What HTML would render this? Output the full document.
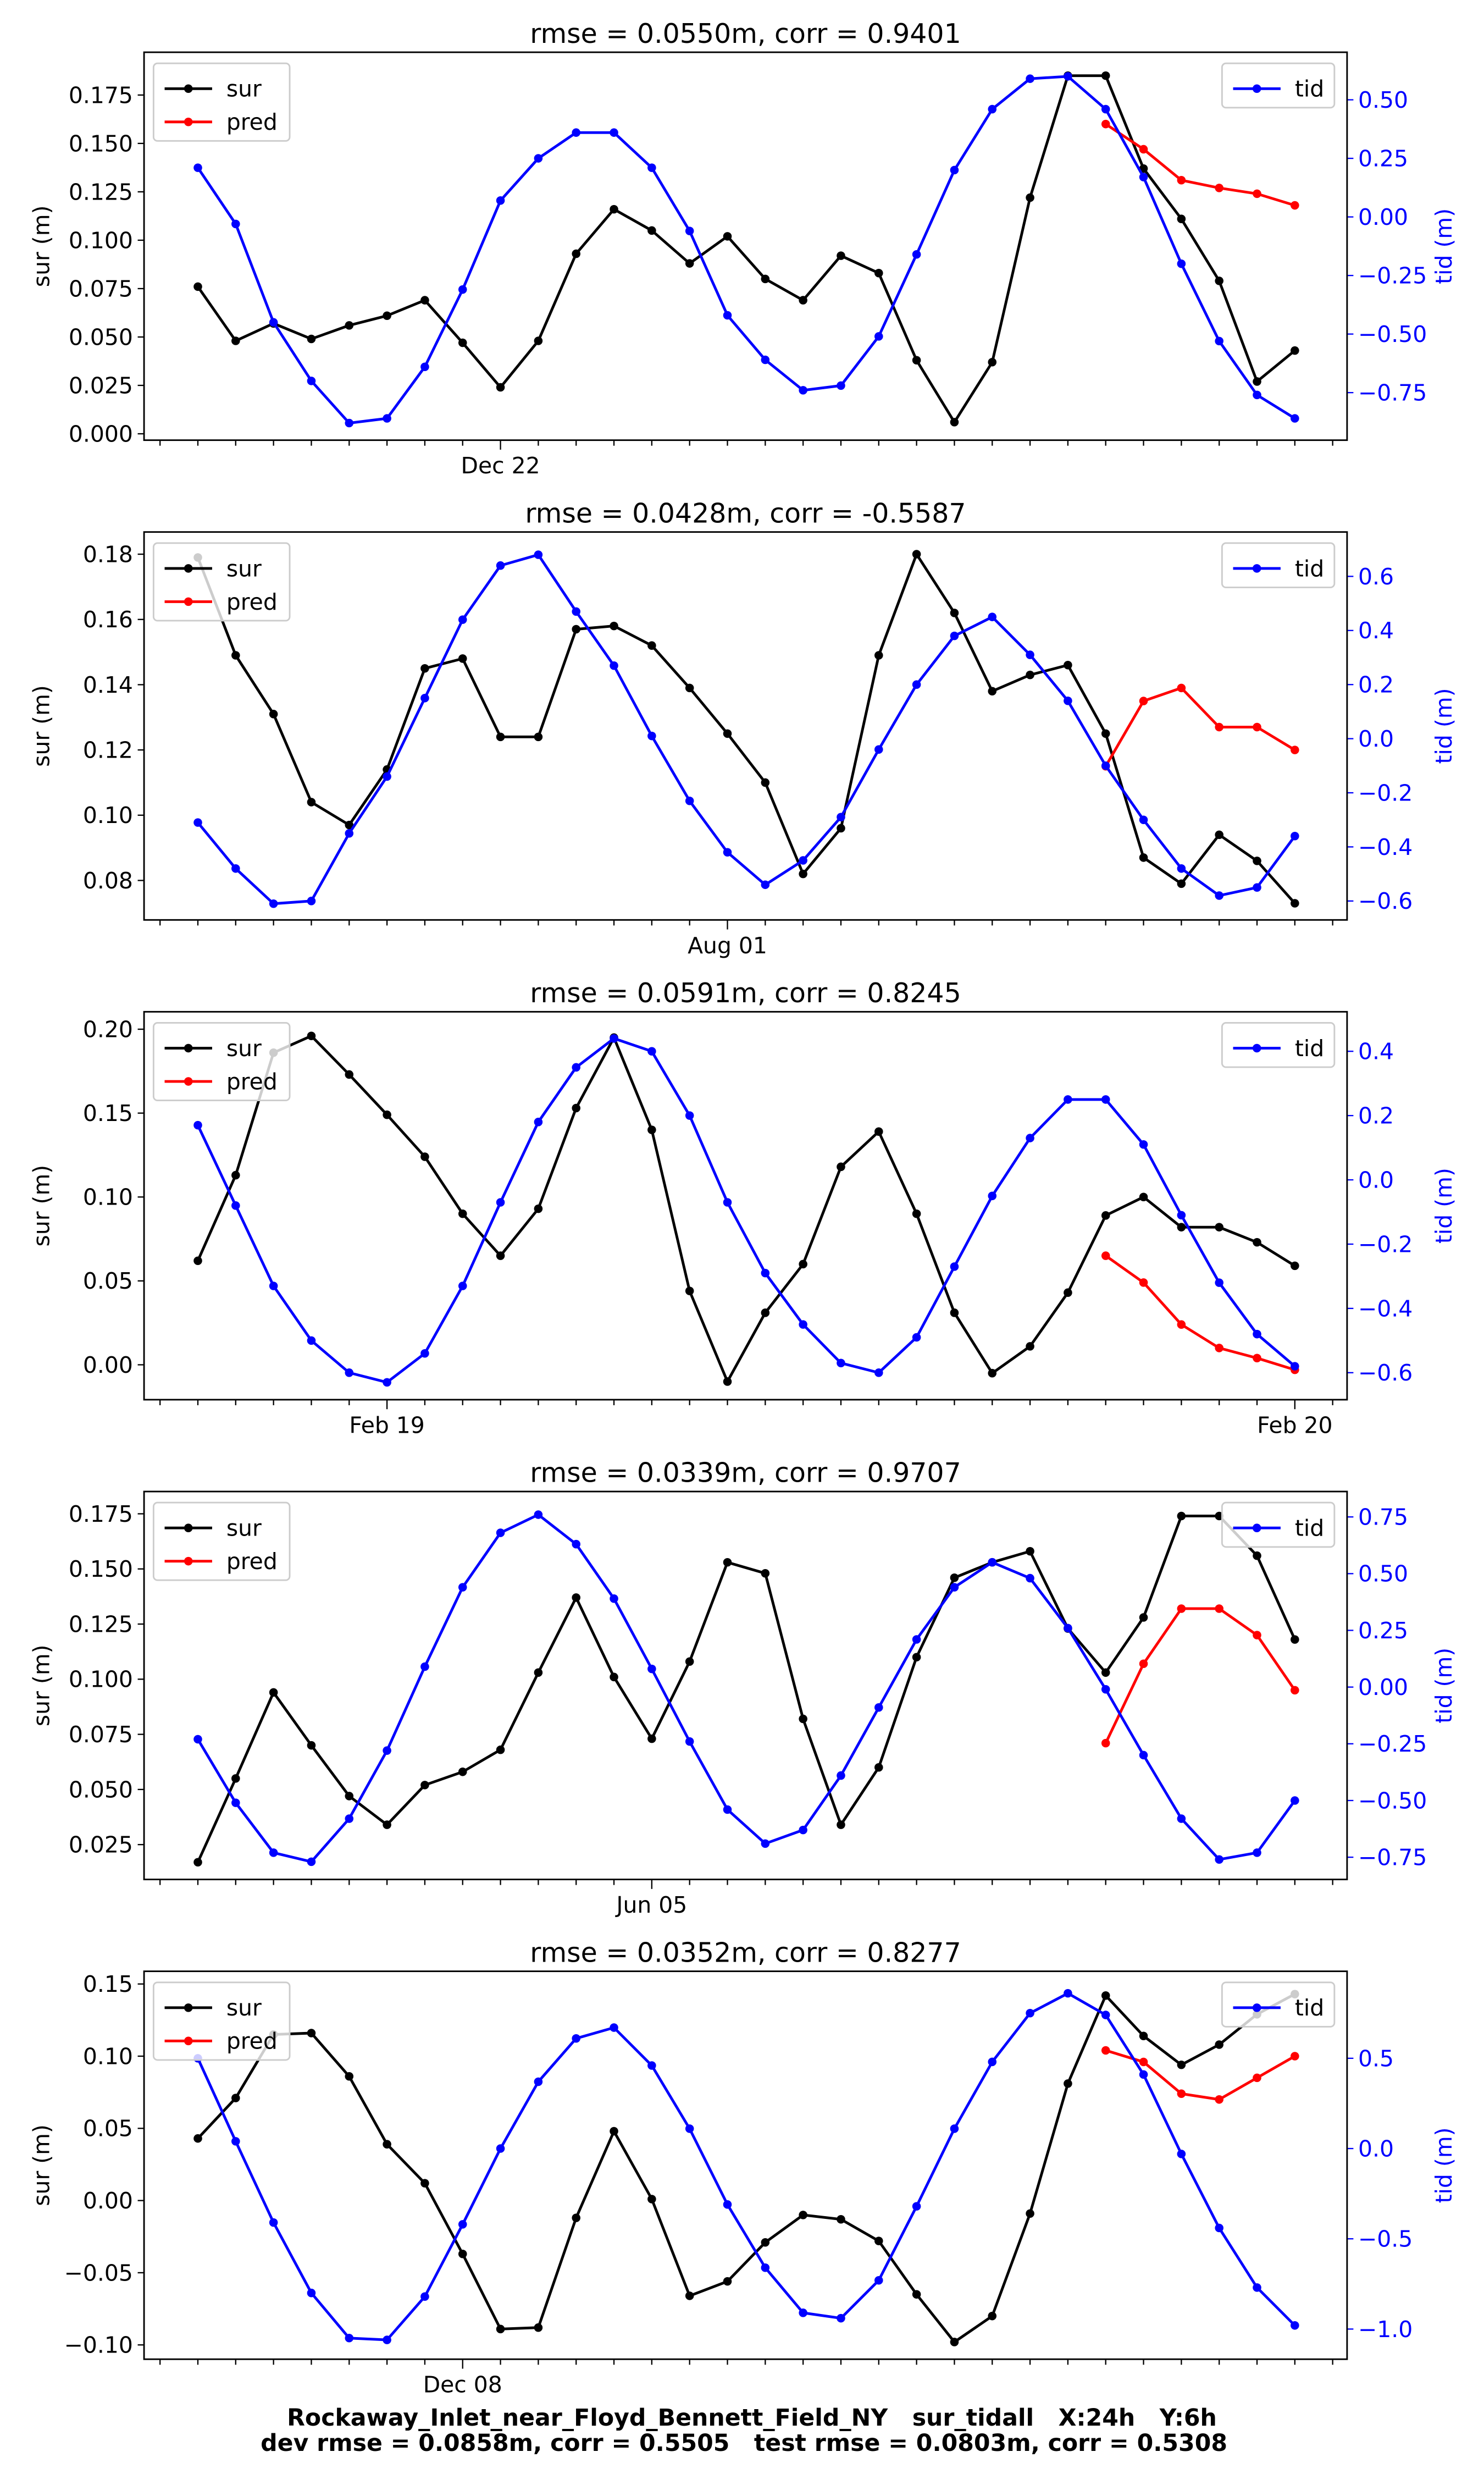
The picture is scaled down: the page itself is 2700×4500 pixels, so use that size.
<!DOCTYPE html>
<html><head><meta charset="utf-8"><style>
html,body{margin:0;padding:0;background:#fff;}
svg{display:block;}
text{font-family:"DejaVu Sans","Liberation Sans",sans-serif;white-space:pre;}
</style></head>
<body>
<svg id="fig" width="2700" height="4500" viewBox="0 0 937.5 1562.5" xmlns="http://www.w3.org/2000/svg" xml:space="preserve">
<rect x="0" y="0" width="937.5" height="1562.5" fill="#fff"/>
<text x="475" y="1532" font-size="14.8" font-weight="bold" text-anchor="middle">Rockaway_Inlet_near_Floyd_Bennett_Field_NY   sur_tidall   X:24h   Y:6h</text>
<text x="470" y="1548" font-size="14.8" font-weight="bold" text-anchor="middle">dev rmse = 0.0858m, corr = 0.5505   test rmse = 0.0803m, corr = 0.5308</text>
</svg>
<script>
const titles = ["rmse = 0.0550m, corr = 0.9401","rmse = 0.0428m, corr = -0.5587","rmse = 0.0591m, corr = 0.8245","rmse = 0.0339m, corr = 0.9707","rmse = 0.0352m, corr = 0.8277"];
const dateLabels = [[[8,"Dec 22"]],[[14,"Aug 01"]],[[5,"Feb 19"],[29,"Feb 20"]],[[12,"Jun 05"]],[[7,"Dec 08"]]];
const sur1 = [0.076,0.048,0.057,0.049,0.056,0.061,0.069,0.047,0.024,0.048,0.093,0.116,0.105,0.088,0.102,0.080,0.069,0.092,0.083,0.038,0.006,0.037,0.122,0.185,0.185,0.137,0.111,0.079,0.027,0.043];
const pred1 = [0.160,0.147,0.131,0.127,0.124,0.118];
const tid1 = [0.21,-0.03,-0.45,-0.70,-0.88,-0.86,-0.64,-0.31,0.07,0.25,0.36,0.36,0.21,-0.06,-0.42,-0.61,-0.74,-0.72,-0.51,-0.16,0.20,0.46,0.59,0.60,0.46,0.17,-0.20,-0.53,-0.76,-0.86];
const sur2 = [0.179,0.149,0.131,0.104,0.097,0.114,0.145,0.148,0.124,0.124,0.157,0.158,0.152,0.139,0.125,0.110,0.082,0.096,0.149,0.180,0.162,0.138,0.143,0.146,0.125,0.087,0.079,0.094,0.086,0.073];
const pred2 = [0.115,0.135,0.139,0.127,0.127,0.120];
const tid2 = [-0.31,-0.48,-0.61,-0.60,-0.35,-0.14,0.15,0.44,0.64,0.68,0.47,0.27,0.01,-0.23,-0.42,-0.54,-0.45,-0.29,-0.04,0.20,0.38,0.45,0.31,0.14,-0.10,-0.30,-0.48,-0.58,-0.55,-0.36];
const sur3 = [0.062,0.113,0.186,0.196,0.173,0.149,0.124,0.090,0.065,0.093,0.153,0.195,0.140,0.044,-0.010,0.031,0.060,0.118,0.139,0.090,0.031,-0.005,0.011,0.043,0.089,0.100,0.082,0.082,0.073,0.059];
const pred3 = [0.065,0.049,0.024,0.010,0.004,-0.003];
const tid3 = [0.17,-0.08,-0.33,-0.50,-0.60,-0.63,-0.54,-0.33,-0.07,0.18,0.35,0.44,0.40,0.20,-0.07,-0.29,-0.45,-0.57,-0.60,-0.49,-0.27,-0.05,0.13,0.25,0.25,0.11,-0.11,-0.32,-0.48,-0.58];
const sur4 = [0.017,0.055,0.094,0.070,0.047,0.034,0.052,0.058,0.068,0.103,0.137,0.101,0.073,0.108,0.153,0.148,0.082,0.034,0.060,0.110,0.146,0.153,0.158,0.123,0.103,0.128,0.174,0.174,0.156,0.118];
const pred4 = [0.071,0.107,0.132,0.132,0.120,0.095];
const tid4 = [-0.23,-0.51,-0.73,-0.77,-0.58,-0.28,0.09,0.44,0.68,0.76,0.63,0.39,0.08,-0.24,-0.54,-0.69,-0.63,-0.39,-0.09,0.21,0.44,0.55,0.48,0.26,-0.01,-0.30,-0.58,-0.76,-0.73,-0.50];
const sur5 = [0.043,0.071,0.115,0.116,0.086,0.039,0.012,-0.037,-0.089,-0.088,-0.012,0.048,0.001,-0.066,-0.056,-0.029,-0.010,-0.013,-0.028,-0.065,-0.098,-0.080,-0.009,0.081,0.142,0.114,0.094,0.108,0.129,0.143];
const pred5 = [0.104,0.096,0.074,0.070,0.085,0.100];
const tid5 = [0.50,0.04,-0.41,-0.80,-1.05,-1.06,-0.82,-0.42,0.00,0.37,0.61,0.67,0.46,0.11,-0.31,-0.66,-0.91,-0.94,-0.73,-0.32,0.11,0.48,0.75,0.86,0.74,0.41,-0.03,-0.44,-0.77,-0.98];
const leftTicks = [["0.000","0.025","0.050","0.075","0.100","0.125","0.150","0.175"],["0.08","0.10","0.12","0.14","0.16","0.18"],["0.00","0.05","0.10","0.15","0.20"],["0.025","0.050","0.075","0.100","0.125","0.150","0.175"],["−0.10","−0.05","0.00","0.05","0.10","0.15"]];
const rightTicks = [["−0.75","−0.50","−0.25","0.00","0.25","0.50"],["−0.6","−0.4","−0.2","0.0","0.2","0.4","0.6"],["−0.6","−0.4","−0.2","0.0","0.2","0.4"],["−0.75","−0.50","−0.25","0.00","0.25","0.50","0.75"],["−1.0","−0.5","0.0","0.5"]];
const leftLims = [[-0.0033,0.1971],[0.0679,0.1868],[-0.0208,0.2104],[0.0092,0.1851],[-0.1099,0.1588]];
const rightLims = [[-0.953,0.703],[-0.670,0.764],[-0.684,0.523],[-0.848,0.862],[-1.167,0.982]];
const surAll=[sur1,sur2,sur3,sur4,sur5], predAll=[pred1,pred2,pred3,pred4,pred5], tidAll=[tid1,tid2,tid3,tid4,tid5];

const NS="http://www.w3.org/2000/svg";
const svg=document.getElementById('fig');
function mk(tag,attrs,parent){const e=document.createElementNS(NS,tag);for(const k in attrs)e.setAttribute(k,attrs[k]);(parent||svg).appendChild(e);return e;}
const AX_L=91, AX_R=851, X0=125, X1=818;
const FS=14.2;
function xS(i){return X0+i*(X1-X0)/29;}
function num(s){return parseFloat(s.replace('−','-'));}

for(let p=0;p<5;p++){
  const top=33+p*303, bot=top+245;
  const g=mk('g',{});
  
  
  const yL=v=>bot-(v-leftLims[p][0])/(leftLims[p][1]-leftLims[p][0])*(bot-top);
  const yR=v=>bot-(v-rightLims[p][0])/(rightLims[p][1]-rightLims[p][0])*(bot-top);
  const t=mk('text',{x:471,y:top-6,'font-size':17,'text-anchor':'middle'},g);t.textContent=titles[p];
  
  
  const majors=dateLabels[p].map(d=>d[0]);
  for(let i=-1;i<=30;i++){
    const x=xS(i), maj=majors.includes(i);
    mk('line',{x1:x,x2:x,y1:bot,y2:bot+(maj?6:3.5),stroke:'#000','stroke-width':0.8},g);
  }
  dateLabels[p].forEach(d=>{
    const tx=mk('text',{x:xS(d[0]),y:bot+21,'font-size':FS,'text-anchor':'middle'},g);tx.textContent=d[1];
    
    
  });
  leftTicks[p].forEach(s=>{
    const y=yL(num(s));
    mk('line',{x1:AX_L-4,x2:AX_L,y1:y,y2:y,stroke:'#000','stroke-width':0.8},g);
    const tx=mk('text',{x:AX_L-7,y:y+5,'font-size':FS,'text-anchor':'end'},g);tx.textContent=s;
    
    
  });
  rightTicks[p].forEach(s=>{
    const y=yR(num(s));
    mk('line',{x1:AX_R,x2:AX_R+4,y1:y,y2:y,stroke:'#00f','stroke-width':0.8},g);
    const tx=mk('text',{x:AX_R+7,y:y+5,'font-size':FS,fill:'#00f'},g);tx.textContent=s;
    
    
  });
  const cy=(top+bot)/2;
  const yl=mk('text',{x:0,y:0,'font-size':FS,'text-anchor':'middle',transform:`translate(31,${cy}) rotate(-90)`},g);yl.textContent='sur (m)';
  
  
  const yr=mk('text',{x:0,y:0,'font-size':FS,'text-anchor':'middle',fill:'#00f',transform:`translate(917,${cy}) rotate(-90)`},g);yr.textContent='tid (m)';
  
  
  function series(vals,off,ys,col,name){
    const pts=vals.map((v,i)=>[xS(i+off),ys(v)]);
    const sg=mk('g',{},g);
    
    
    mk('polyline',{points:pts.map(q=>q.join(',')).join(' '),fill:'none',stroke:col,'stroke-width':1.7,'stroke-linejoin':'round'},sg);
    pts.forEach(q=>{const c=mk('circle',{cx:q[0],cy:q[1],r:2.7,fill:col},sg);
      
      });
  }
  series(surAll[p],0,yL,'#000','sur-line');
  series(predAll[p],24,yL,'#f00','pred-line');
  series(tidAll[p],0,yR,'#00f','tid-line');
  const fr=mk('rect',{x:AX_L,y:top,width:AX_R-AX_L,height:bot-top,fill:'none',stroke:'#000','stroke-width':1},g);
  
  
  const lg=mk('g',{},g);
  
  
  mk('rect',{x:97,y:top+7,width:86,height:49,rx:2.5,fill:'#fff','fill-opacity':0.8,stroke:'#ccc','stroke-width':1},lg);
  [['sur','#000',top+23],['pred','#f00',top+44]].forEach(e=>{
    mk('line',{x1:104,x2:134,y1:e[2],y2:e[2],stroke:e[1],'stroke-width':1.7},lg);
    mk('circle',{cx:119,cy:e[2],r:2.7,fill:e[1]},lg);
    const tx=mk('text',{x:143,y:e[2]+5,'font-size':FS},lg);tx.textContent=e[0];
    
    
  });
  const rg=mk('g',{},g);
  
  
  mk('rect',{x:772,y:top+7,width:71,height:28,rx:2.5,fill:'#fff','fill-opacity':0.8,stroke:'#ccc','stroke-width':1},rg);
  mk('line',{x1:779,x2:809,y1:top+23,y2:top+23,stroke:'#00f','stroke-width':1.7},rg);
  mk('circle',{cx:794,cy:top+23,r:2.7,fill:'#00f'},rg);
  const tt=mk('text',{x:818,y:top+28,'font-size':FS},rg);tt.textContent='tid';
  
  
}
</script>
</body></html>
